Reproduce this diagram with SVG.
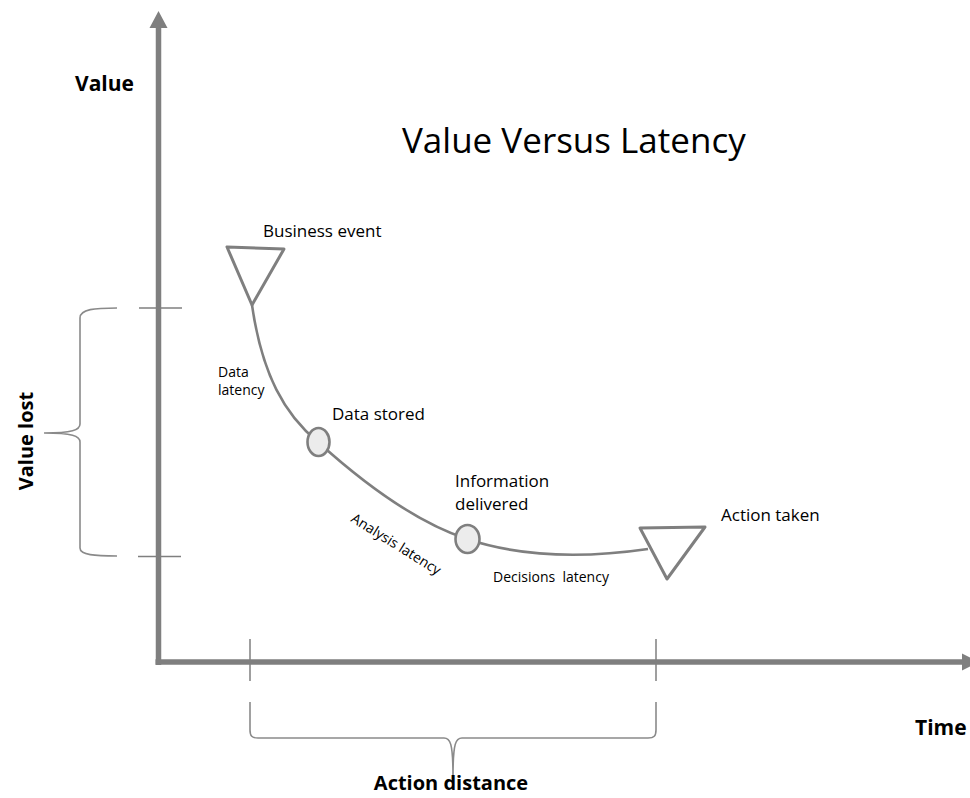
<svg xmlns="http://www.w3.org/2000/svg" width="970" height="798" viewBox="0 0 970 798">
  <style>
    .axis { stroke: #7f7f7f; stroke-width: 5.5; fill: none; }
    .head { fill: #7f7f7f; }
    .tick { stroke: #7f7f7f; stroke-width: 1.5; fill: none; }
    .brace { stroke: #8a8a8a; stroke-width: 1.6; fill: none; }
    .curve { stroke: #7f7f7f; stroke-width: 2.6; fill: none; }
    .tri { stroke: #7f7f7f; stroke-width: 3; fill: #ffffff; stroke-linejoin: round; }
    .dot { stroke: #7f7f7f; stroke-width: 2.6; fill: #ececec; }
    text { font-family: "Open Sans", "Liberation Sans", sans-serif; fill: #000000; }
    .lbl { font-size: 17px; }
    .small { font-size: 14px; }
    .bold { font-weight: bold; font-size: 20px; }
    .title { font-size: 35px; }
  </style>

  <!-- axes -->
  <g id="axes">
    <line class="axis" x1="158.5" y1="665" x2="158.5" y2="26"/>
    <polygon class="head" points="149.5,28 167.5,28 158.5,11"/>
    <line class="axis" x1="155.5" y1="662" x2="964" y2="662"/>
    <polygon class="head" points="962,653.5 962,670.5 979,662"/>
    <text class="bold" x="75" y="91" style="font-size:21px">Value</text>
    <text class="bold" x="915" y="735" style="font-size:21px">Time</text>
  </g>

  <text class="title" x="402" y="153">Value Versus Latency</text>

  <!-- value lost range -->
  <g id="value-lost">
    <line class="tick" x1="139" y1="308" x2="182" y2="308"/>
    <line class="tick" x1="138" y1="556.5" x2="181" y2="556.5"/>
    <path class="brace" d="M117,308 C95,308 80,309 80,318 L80,424 C80,430 72,433 44,433 C72,433 80,436 80,442 L80,548 C80,555 95,556 117,556"/>
    <text class="bold" transform="translate(33,441) rotate(-90)" text-anchor="middle">Value lost</text>
  </g>

  <!-- action distance range -->
  <g id="action-distance">
    <line class="tick" x1="250" y1="639" x2="250" y2="681"/>
    <line class="tick" x1="656" y1="639" x2="656" y2="681"/>
    <path class="brace" d="M250,702 L250,730 C250,736 252,738 258,738 L444,738 C450,738 453,742 453,777 C453,742 456,738 462,738 L648,738 C654,738 656,736 656,730 L656,702"/>
    <text class="bold" x="451" y="790" text-anchor="middle">Action distance</text>
  </g>

  <!-- latency curve -->
  <g id="connectors">
    <path class="curve" d="M252,305 C262,375 285,415 318,442 C360,480 415,522 467,539 C530,560 600,556 648,549"/>
  </g>

  <g id="business-event">
    <polygon class="tri" points="227,247 284,249 252,305"/>
    <text class="lbl" x="263" y="237">Business event</text>
  </g>

  <g id="data-latency">
    <text class="small" x="218" y="377">Data</text>
    <text class="small" x="218" y="395">latency</text>
  </g>

  <g id="data-stored">
    <ellipse class="dot" cx="318.5" cy="442" rx="11" ry="14"/>
    <text class="lbl" x="332" y="420">Data stored</text>
  </g>

  <g id="analysis-latency">
    <text class="small" transform="translate(350,521) rotate(32)">Analysis latency</text>
  </g>

  <g id="information-delivered">
    <ellipse class="dot" cx="467.5" cy="539" rx="12" ry="14"/>
    <text class="lbl" x="455" y="487">Information</text>
    <text class="lbl" x="455" y="510">delivered</text>
  </g>

  <g id="decisions-latency">
    <text class="small" x="493" y="582" xml:space="preserve">Decisions  latency</text>
  </g>

  <g id="action-taken">
    <polygon class="tri" points="640,528 705,527 667,579"/>
    <text class="lbl" x="721" y="521">Action taken</text>
  </g>
</svg>
